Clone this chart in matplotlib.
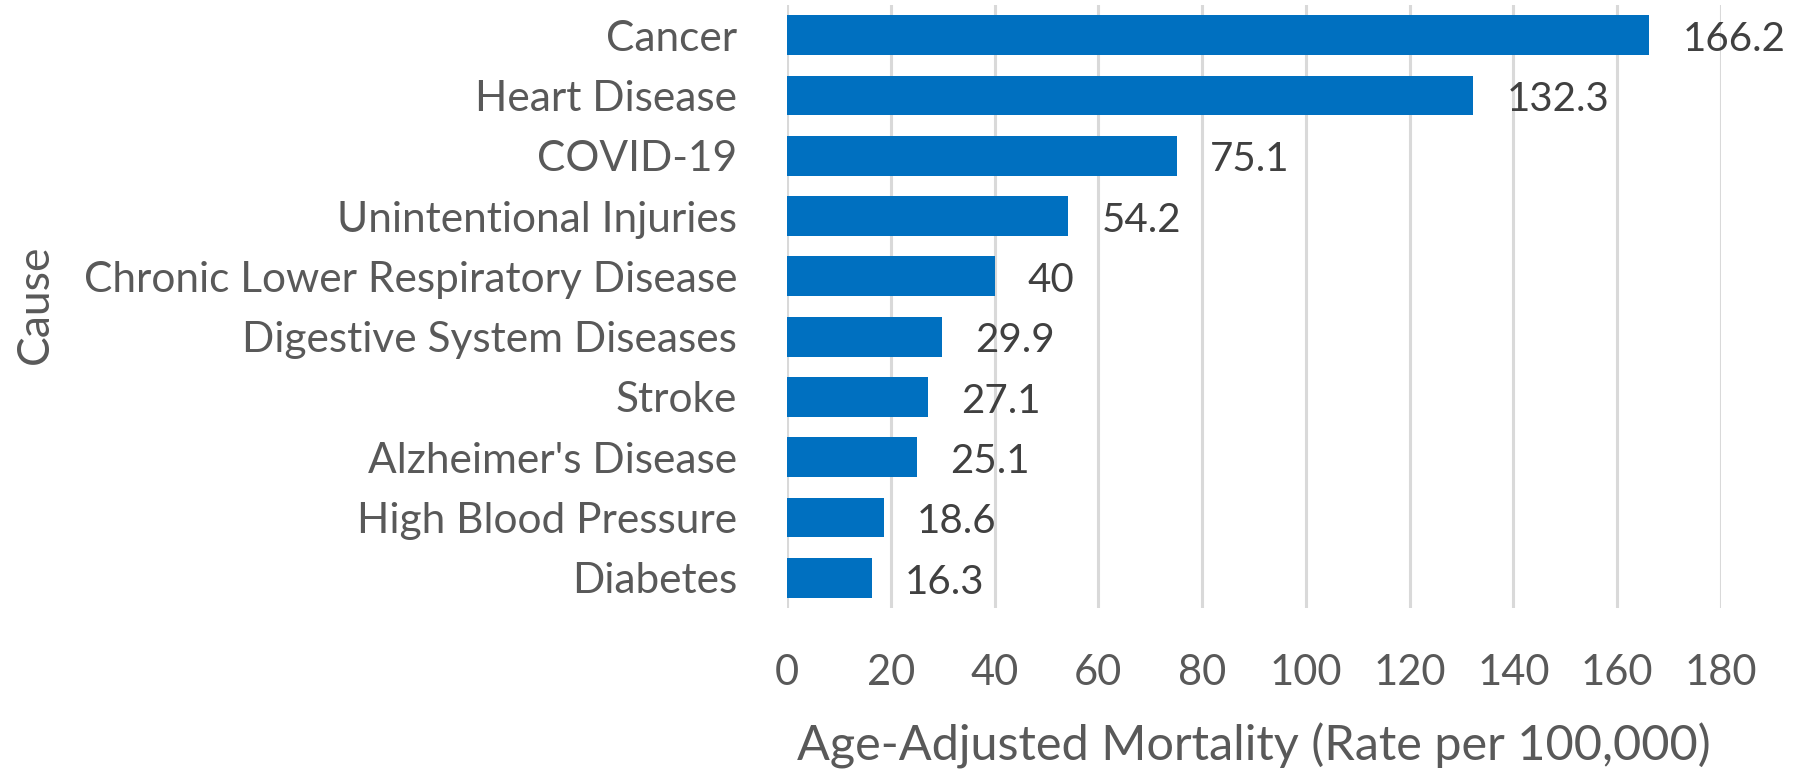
import matplotlib
matplotlib.use("Agg")
import matplotlib.pyplot as plt

causes = ["Cancer", "Heart Disease", "COVID-19", "Unintentional Injuries",
          "Chronic Lower Respiratory Disease", "Digestive System Diseases",
          "Stroke", "Alzheimer's Disease", "High Blood Pressure", "Diabetes"]
rates = [166.2, 132.3, 75.1, 54.2, 40, 29.9, 27.1, 25.1, 18.6, 16.3]
rate_labels = ["166.2", "132.3", "75.1", "54.2", "40", "29.9", "27.1", "25.1", "18.6", "16.3"]
xticks = [0, 20, 40, 60, 80, 100, 120, 140, 160, 180]

plt.rcParams['font.family'] = ['Lato', 'DejaVu Sans']

fig = plt.figure(figsize=(18.01, 7.73), dpi=100)
ax = fig.add_axes([787/1801, 1-608/773, (1721-787)/1801, (608-5)/773])

ypos = list(range(len(causes)))
bars = ax.barh(ypos, rates, height=0.66, color="#0070C0", zorder=3)
ax.set_ylim(len(causes)-0.5, -0.5)
ax.set_xlim(0, 180)
ax.set_xticks(xticks)
ax.set_xticklabels([str(t) for t in xticks])
ax.set_yticks(ypos)
ax.set_yticklabels(causes, fontsize=30.5)

for y, v, lab in zip(ypos, rates, rate_labels):
    ax.annotate(lab, xy=(v, y), xytext=(24, -3), textcoords="offset points",
                ha="left", va="center", fontsize=29, color="#404040", zorder=4)

ax.grid(axis="x", color="#D9D9D9", linewidth=2.2, zorder=0)
ax.set_axisbelow(True)
for s in ax.spines.values():
    s.set_visible(False)
ax.tick_params(axis="both", length=0, labelcolor="#595959")
ax.tick_params(axis="x", labelsize=30, pad=33)
ax.tick_params(axis="y", pad=36)

ax.set_xlabel("Age-Adjusted Mortality (Rate per 100,000)", fontsize=35,
              color="#595959", labelpad=22)
ax.set_ylabel("Cause", fontsize=32, color="#595959")
ax.yaxis.set_label_coords(-(787-56)/934, (608-304)/603)

fig.savefig("out.png", dpi=100)
